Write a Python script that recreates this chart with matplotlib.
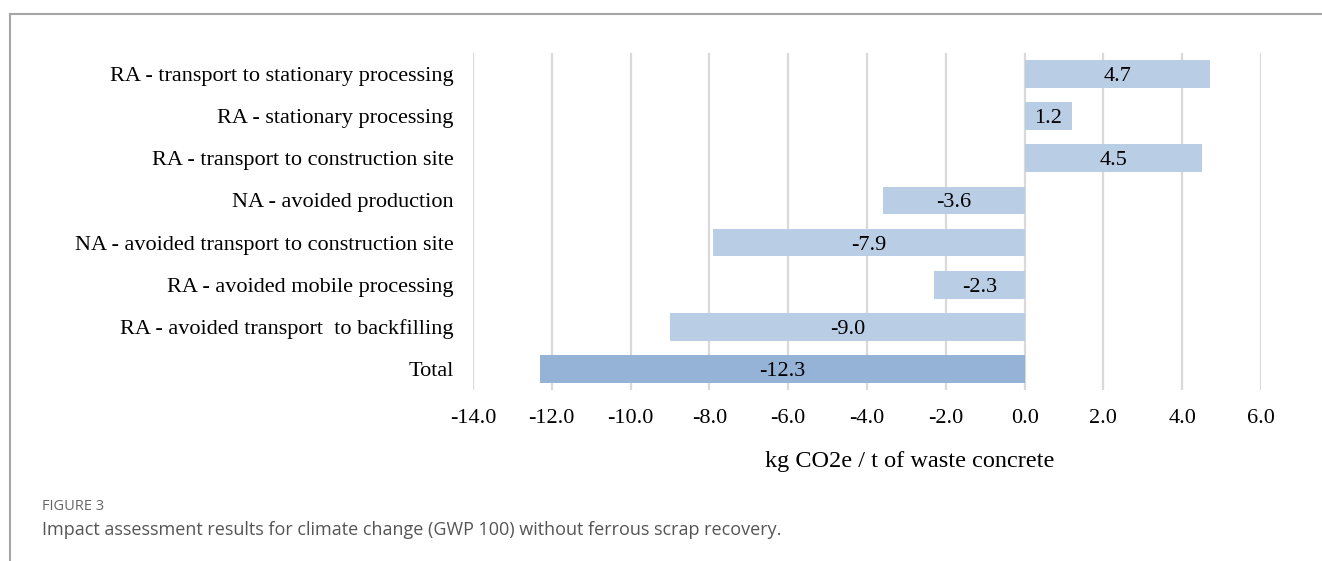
import matplotlib
matplotlib.use("Agg")
import matplotlib.pyplot as plt
from matplotlib.lines import Line2D

categories = [
    "RA - transport to stationary processing",
    "RA - stationary processing",
    "RA - transport to construction site",
    "NA - avoided production",
    "NA - avoided transport to construction site",
    "RA - avoided mobile processing",
    "RA - avoided transport  to backfilling",
    "Total",
]
values = [4.7, 1.2, 4.5, -3.6, -7.9, -2.3, -9.0, -12.3]
xticks = [-14, -12, -10, -8, -6, -4, -2, 0, 2, 4, 6]

LIGHT = "#B9CDE5"
DARK = "#95B3D7"
SERIF = "Liberation Serif"

fig = plt.figure(figsize=(13.22, 5.61), dpi=100)
ax = fig.add_axes([473 / 1322, 1 - 390 / 561, 788 / 1322, 337 / 561])

ypos = list(range(len(categories)))[::-1]
colors = [DARK if c == "Total" else LIGHT for c in categories]
ax.barh(ypos, values, height=0.66, color=colors, zorder=3)

for y, v in zip(ypos, values):
    ax.text(v / 2, y, f"{v:.1f}", ha="center", va="center_baseline",
            fontsize=16, family=SERIF, zorder=4)

ax.set_xlim(-14, 6)
ax.set_ylim(-0.5, len(categories) - 0.5)
ax.set_xticks(xticks)
ax.set_xticklabels([f"{t:.1f}" for t in xticks], family=SERIF, fontsize=16)
ax.set_yticks(ypos)
ax.set_yticklabels(categories, family=SERIF, fontsize=16)
ax.tick_params(axis="both", length=0)
ax.tick_params(axis="x", pad=13.5)
ax.tick_params(axis="y", pad=14)
ax.grid(axis="x", color="#D9D9D9", lw=1.6, zorder=0)
for s in ax.spines.values():
    s.set_visible(False)
ax.set_xlabel("kg CO2e / t of waste concrete", family=SERIF, fontsize=17.5)
ax.xaxis.set_label_coords((910 - 473) / 788, -(461 - 390) / 337)
ax.xaxis.label.set_va("center")

# frame lines of the figure panel
fig.add_artist(Line2D([10 / 1322, 1], [1 - 14 / 561] * 2, color="#A6A6A6", lw=1.5))
fig.add_artist(Line2D([10 / 1322] * 2, [0, 1 - 14 / 561], color="#A6A6A6", lw=1.5))

fig.text(42 / 1322, 1 - 507 / 561, "FIGURE 3", fontsize=10.5, color="#666666",
         family="Open Sans", va="center")
fig.text(42 / 1322, 1 - 530 / 561,
         "Impact assessment results for climate change (GWP 100) without ferrous scrap recovery.",
         fontsize=13, color="#555555", family="Open Sans", va="center")

fig.savefig("out.png", dpi=100)
